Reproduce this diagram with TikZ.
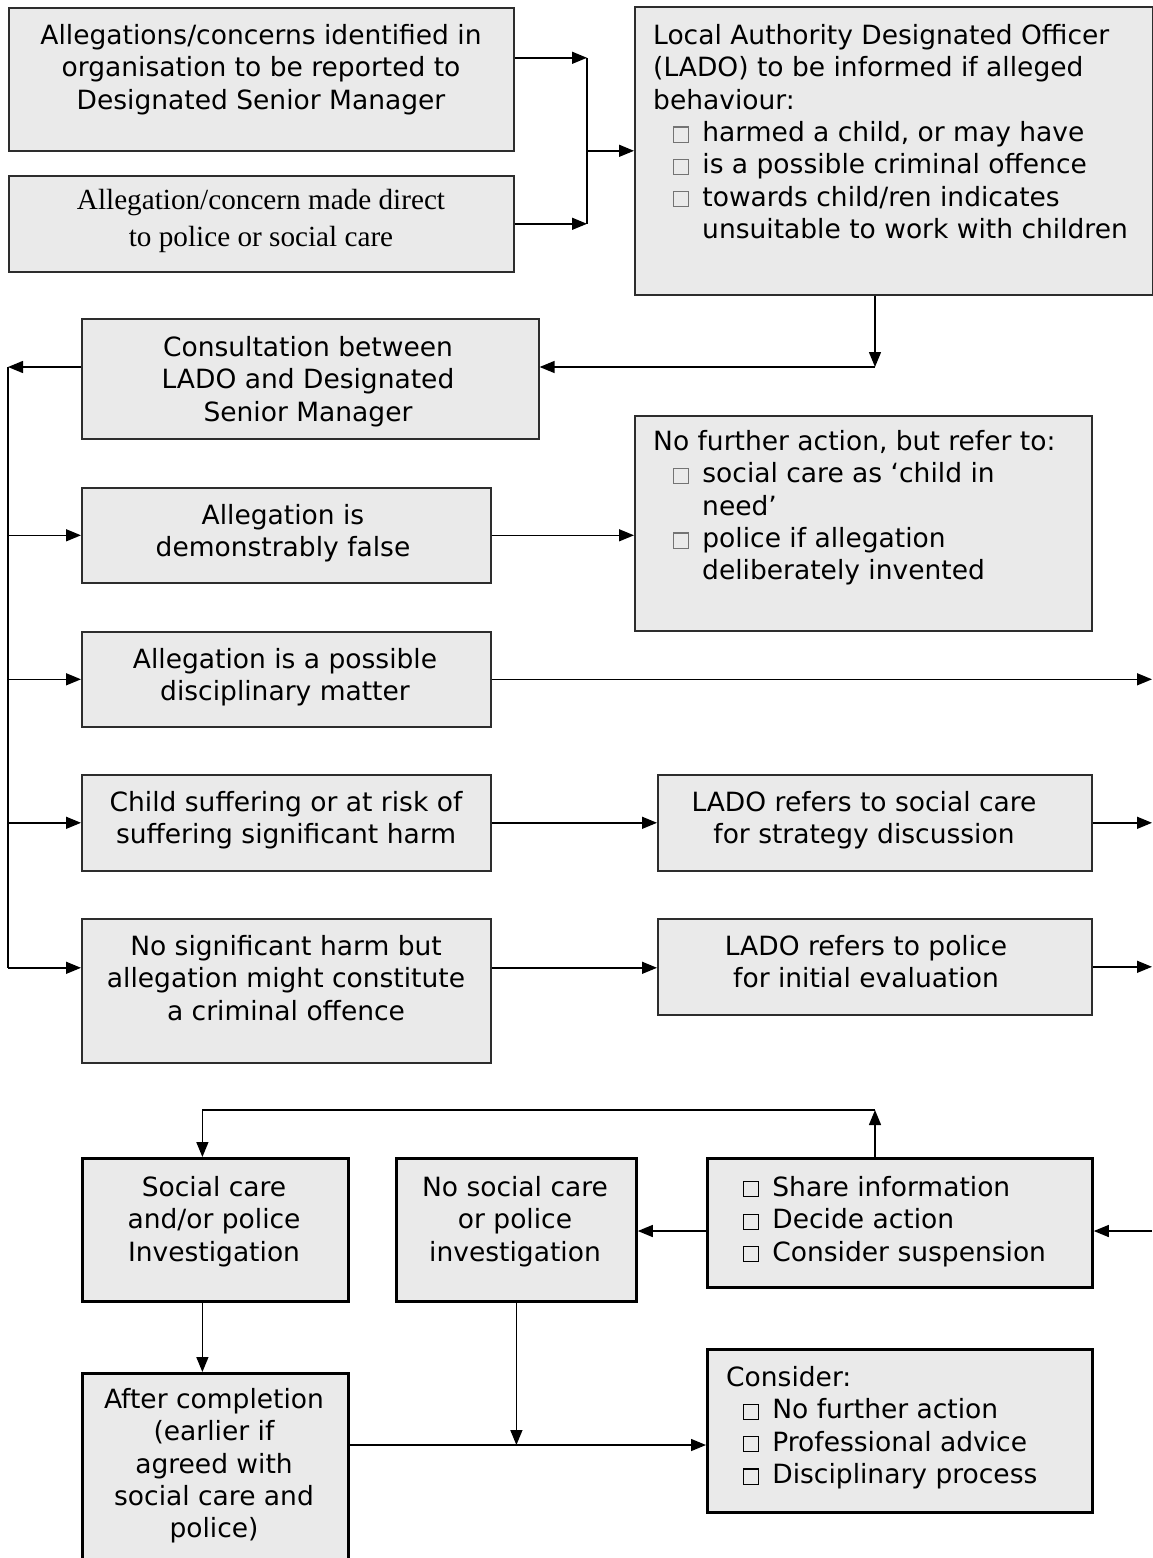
\documentclass[tikz,border=0pt]{standalone}
\usepackage{fontspec}
\setmainfont{DejaVu Sans}
\newfontfamily\timesfont{Liberation Serif}
\usetikzlibrary{arrows.meta,positioning,calc}
\definecolor{boxFill}{RGB}{234,234,234}
\definecolor{boxLine}{RGB}{45,45,45}
\newcommand{\sqbul}[2]{\hspace*{#1}{\color{#2}\fboxsep=0pt\fboxrule=1.1pt\fbox{\rule{0pt}{14pt}\hspace{14pt}}}\hspace{13pt}}
\tikzset{flowchart/.style={
  x=1pt, y=-1pt,
  font=\fontsize{26.5}{32.4}\selectfont,
  box/.style={draw=boxLine, fill=boxFill, line width=1.6pt, inner sep=0pt, anchor=north west},
  heavy/.style={box, draw=black, line width=2.8pt},
  txt/.style={anchor=north, inner sep=0pt, align=center, execute at begin node=\strut},
  ltxt/.style={txt, anchor=north west, align=left},
  flow/.style={-{Triangle[length=15pt,width=12pt]}, line width=1.4pt},
  wire/.style={line width=1.4pt},
}}
\begin{document}
\begin{tikzpicture}[flowchart]
\useasboundingbox (0,0) rectangle (1152,1558);

% ---- how the allegation comes in ----
\node[box, minimum width=505pt, minimum height=143pt] (alleg) at (8,7) {};
\node[box, minimum width=505pt, minimum height=96pt]  (direct) at (8,175) {};
\node[box, minimum width=518pt, minimum height=288pt] (lado) at (634,6) {};
\node[txt] (allegT) at (261,24) {Allegations/concerns identified in\\organisation to be reported to\\Designated Senior Manager};
\node[txt, font=\timesfont\fontsize{29.2}{37}\selectfont] (directT) at (261,189) {Allegation/concern made direct\\to police or social care};
\node[ltxt] (ladoT) at (653,24) {Local Authority Designated Officer\\(LADO) to be informed if alleged\\behaviour:\\
  \sqbul{20pt}{black!55}harmed a child, or may have\\
  \sqbul{20pt}{black!55}is a possible criminal offence\\
  \sqbul{20pt}{black!55}towards child/ren indicates\\
  \hspace*{49pt}unsuitable to work with children};

\coordinate (jn) at (587,150);
\coordinate (jtop) at ([yshift=21.5pt]alleg.east -| jn);
\coordinate (jbot) at (direct.east -| jn);
\draw[flow] ([yshift=21.5pt]alleg.east) -- (jtop);
\draw[flow] (direct.east) -- (jbot);
\draw[wire] (jtop) -- (jbot);
\draw[flow] (jn |- lado.west) -- (lado.west);

% ---- consultation and the four outcomes ----
\node[box, minimum width=457pt, minimum height=120pt] (consult) at (81,318) {};
\node[box, minimum width=409pt, minimum height=95pt]  (false) at (81,487) {};
\node[box, minimum width=409pt, minimum height=95pt]  (disc) at (81,631) {};
\node[box, minimum width=409pt, minimum height=96pt]  (harm) at (81,774) {};
\node[box, minimum width=409pt, minimum height=144pt] (crime) at (81,918) {};
\node[box, minimum width=457pt, minimum height=215pt] (nfa) at (634,415) {};
\node[box, minimum width=434pt, minimum height=96pt]  (socref) at (657,774) {};
\node[box, minimum width=434pt, minimum height=96pt]  (polref) at (657,918) {};

\node[txt] (consultT) at (308,336) {Consultation between\\LADO and Designated\\Senior Manager};
\node[txt] (falseT) at (283,504) {Allegation is\\demonstrably false};
\node[txt] (discT) at (285,648) {Allegation is a possible\\disciplinary matter};
\node[txt] (harmT) at (286,791) {Child suffering or at risk of\\suffering significant harm};
\node[txt] (crimeT) at (286,935) {No significant harm but\\allegation might constitute\\a criminal offence};
\node[ltxt] (nfaT) at (653,430) {No further action, but refer to:\\
  \sqbul{20pt}{black!55}social care as `child in\\
  \hspace*{49pt}need'\\
  \sqbul{20pt}{black!55}police if allegation\\
  \hspace*{49pt}deliberately invented};
\node[txt] (socrefT) at (864,791) {LADO refers to social care\\for strategy discussion};
\node[txt] (polrefT) at (866,935) {LADO refers to police\\for initial evaluation};

\coordinate (c1) at (875,367);
\coordinate (spine) at (8,367);
\coordinate (edge) at (1152,0);
\coordinate (crimeIn) at ([yshift=23pt]crime.west);
\coordinate (crimeOut) at ([yshift=23pt]crime.east);
\draw[flow] (lado.south -| c1) -- (c1);
\draw[flow] (c1) -- (consult.east |- c1);
\draw[flow] (consult.west |- c1) -- (spine);
\draw[wire] (spine) -- (crimeIn -| spine);
\draw[flow] (false.west -| spine) -- (false.west);
\draw[flow] (disc.west -| spine) -- (disc.west);
\draw[flow] (harm.west -| spine) -- (harm.west);
\draw[flow] (crimeIn -| spine) -- (crimeIn);
\draw[flow] (false.east) -- (nfa.west |- false.east);
\draw[flow] (disc.east) -- (disc.east -| edge);
\draw[flow] (harm.east) -- (socref.west |- harm.east);
\draw[flow] (socref.east) -- (socref.east -| edge);
\draw[flow] (crimeOut) -- (polref.west |- crimeOut);
\draw[flow] (polref.east) -- (polref.east -| edge);

% ---- strategy meeting and investigation ----
\node[heavy, minimum width=266pt, minimum height=143pt] (sci) at (81,1157) {};
\node[heavy, minimum width=240pt, minimum height=143pt] (nosc) at (395,1157) {};
\node[heavy, minimum width=385pt, minimum height=129pt] (share) at (706,1157) {};
\node[heavy, minimum width=266pt, minimum height=210pt] (after) at (81,1372) {};
\node[heavy, minimum width=385pt, minimum height=163pt] (consider) at (706,1348) {};

\node[txt] (sciT) at (214,1176) {Social care\\and/or police\\Investigation};
\node[txt] (noscT) at (515,1176) {No social care\\or police\\investigation};
\node[ltxt] (shareT) at (723,1176) {\sqbul{20pt}{black}Share information\\\sqbul{20pt}{black}Decide action\\\sqbul{20pt}{black}Consider suspension};
\node[txt] (afterT) at (214,1388) {After completion\\(earlier if\\agreed with\\social care and\\police)};
\node[ltxt] (considerT) at (726,1366) {Consider:\\\sqbul{17pt}{black}No further action\\\sqbul{17pt}{black}Professional advice\\\sqbul{17pt}{black}Disciplinary process};

\coordinate (inR) at (1152,1231);
\coordinate (bar) at (875,1110);
\coordinate (meet) at (nosc.south |- 0,1445);
\draw[flow] (inR) -- (share.east |- inR);
\draw[flow] (share.west |- inR) -- (nosc.east |- inR);
\draw[flow] (share.north -| bar) -- (bar);
\draw[flow] (bar) -- ([xshift=-13pt]sci.north |- bar) -- ([xshift=-13pt]sci.north);
\draw[flow] ([xshift=-13pt]sci.south) -- ([xshift=-13pt]after.north);
\draw[flow] (nosc.south) -- (meet);
\draw[flow] (after.east |- meet) -- (consider.west |- meet);
\end{tikzpicture}
\end{document}
